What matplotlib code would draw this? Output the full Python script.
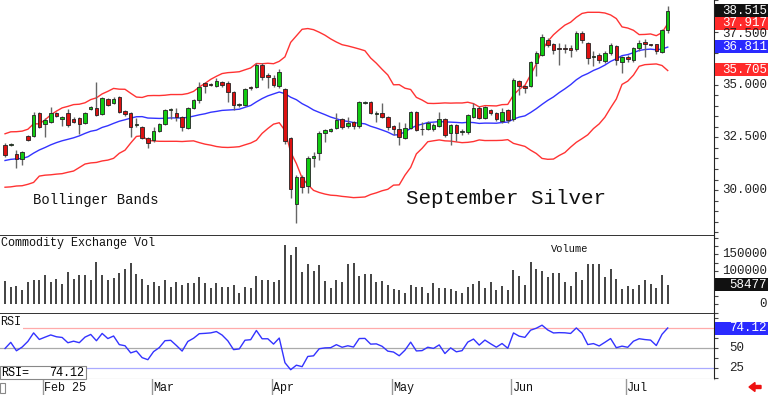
import numpy as np
import pandas as pd
import matplotlib
matplotlib.use('Agg')
import matplotlib.pyplot as plt
from matplotlib.patches import Rectangle, FancyArrow
import matplotlib.transforms as mtransforms

MONO = 'Liberation Mono'

# trading days shown, Jan 23 - Jul 11 2025
holidays = ['2025-02-17', '2025-04-18', '2025-05-26', '2025-06-19', '2025-07-04']
dates = pd.bdate_range('2025-01-23', '2025-07-11')
dates = dates[~dates.isin(pd.to_datetime(holidays))]

# closes before the window, only used to warm up the bands / rsi
prior_close = [31.1, 31.0, 31.4, 30.8, 30.1, 30.0, 31.0, 31.1, 31.4, 31.7,
               31.7, 31.8, 31.3, 31.3, 31.9, 32.5, 31.8, 32.4, 32.1]

opens = [32.14, 32.16, 31.71, 31.47, 32.56, 32.56, 33.65, 33.13, 33.23, 33.65,
         33.37, 33.65, 33.37, 33.42, 33.18, 33.84, 33.89, 33.61, 34.32, 34.13,
         34.42, 33.75, 33.65, 33.08, 32.99, 32.47, 32.37, 32.80, 33.13, 33.80,
         33.65, 33.46, 32.94, 33.89, 34.27, 35.08, 35.05, 34.94, 35.13, 35.08,
         34.65, 34.03, 34.03, 34.89, 34.89, 35.93, 35.46, 35.32, 34.94, 34.79,
         32.47, 29.33, 30.62, 30.19, 31.52, 31.76, 32.71, 32.80, 32.94, 33.37,
         33.04, 33.23, 33.04, 34.15, 34.18, 33.62, 33.65, 33.46, 33.04, 32.90,
         32.47, 32.94, 33.70, 32.92, 32.90, 32.90, 33.04, 33.37, 32.71, 33.08,
         32.75, 32.75, 33.46, 33.89, 33.42, 33.80, 33.65, 33.27, 33.80, 33.37,
         35.17, 34.94, 34.94, 36.03, 36.41, 37.12, 36.93, 36.70, 36.72, 36.74,
         36.69, 37.45, 36.98, 36.31, 36.41, 36.12, 36.50, 36.83, 36.07, 36.31,
         36.17, 36.74, 37.02, 36.93, 36.93, 36.55, 37.62]
highs = [32.23, 32.25, 31.90, 31.85, 32.60, 33.70, 33.70, 33.40, 33.94, 33.70,
         33.50, 33.84, 33.46, 33.46, 33.70, 34.00, 35.13, 34.42, 34.37, 34.42,
         34.47, 33.80, 33.70, 33.40, 33.04, 32.52, 32.99, 33.18, 33.84, 33.89,
         33.90, 33.50, 33.94, 34.32, 35.13, 35.13, 35.10, 35.30, 35.17, 35.17,
         34.70, 34.15, 34.84, 34.94, 36.03, 36.03, 35.55, 35.46, 35.75, 34.84,
         32.50, 30.70, 30.70, 31.60, 31.80, 32.80, 32.90, 32.95, 33.65, 33.42,
         33.45, 33.30, 34.22, 34.25, 34.22, 33.75, 34.13, 33.50, 33.10, 33.23,
         33.20, 33.75, 33.75, 33.23, 33.30, 33.20, 33.70, 33.42, 33.15, 33.15,
         32.90, 33.60, 34.13, 34.00, 34.00, 33.85, 33.70, 33.90, 33.85, 35.30,
         35.22, 35.00, 36.12, 36.60, 37.40, 37.20, 37.00, 36.98, 36.95, 36.88,
         37.55, 37.55, 37.05, 36.60, 36.50, 36.60, 37.00, 36.90, 36.35, 36.40,
         36.80, 37.10, 37.15, 36.95, 36.95, 37.65, 38.72]
lows = [31.57, 32.10, 31.04, 31.19, 32.33, 32.50, 32.95, 32.52, 33.18, 33.46,
        33.04, 33.00, 33.18, 32.66, 33.13, 33.80, 33.50, 33.56, 33.99, 34.08,
        33.65, 33.50, 32.52, 32.99, 32.42, 31.99, 32.30, 32.75, 33.08, 33.37,
        33.27, 32.80, 32.90, 33.84, 34.13, 34.60, 34.95, 34.90, 34.90, 34.18,
        33.80, 33.95, 33.99, 34.75, 34.84, 35.20, 34.84, 34.89, 34.85, 32.20,
        29.62, 28.43, 29.85, 29.85, 31.09, 31.42, 32.28, 32.75, 32.90, 32.90,
        32.95, 32.90, 32.95, 34.10, 33.60, 33.23, 33.42, 32.85, 32.60, 32.14,
        32.40, 32.90, 32.80, 32.61, 32.85, 32.80, 32.99, 32.50, 32.14, 32.33,
        32.60, 32.66, 33.40, 33.37, 33.37, 33.55, 33.30, 33.20, 33.18, 33.30,
        34.50, 34.60, 34.90, 35.40, 36.35, 36.80, 36.45, 35.93, 36.50, 36.30,
        36.60, 36.98, 36.00, 35.90, 36.05, 36.05, 36.40, 35.93, 35.55, 36.10,
        36.10, 36.60, 36.30, 36.85, 36.45, 36.50, 37.45]
closes = [31.66, 32.20, 31.47, 31.80, 32.37, 33.56, 32.99, 33.32, 33.65, 33.51,
          33.46, 33.08, 33.23, 33.13, 33.65, 33.94, 33.56, 34.37, 34.03, 34.32,
          33.70, 33.61, 32.99, 33.13, 32.47, 32.23, 32.80, 33.13, 33.80, 33.84,
          33.46, 32.99, 33.89, 34.27, 34.89, 34.94, 35.00, 35.17, 34.98, 34.65,
          34.03, 34.08, 34.79, 34.84, 35.93, 35.36, 35.36, 34.98, 35.60, 32.33,
          30.05, 30.62, 30.14, 31.52, 31.61, 32.71, 32.85, 32.88, 33.32, 32.99,
          33.18, 33.04, 34.18, 34.20, 33.65, 33.68, 33.46, 32.99, 32.90, 32.52,
          32.94, 33.70, 32.85, 32.88, 33.18, 33.08, 33.37, 32.61, 33.08, 32.71,
          32.80, 33.56, 33.89, 33.42, 33.94, 33.65, 33.37, 33.70, 33.32, 35.22,
          34.94, 34.84, 36.07, 36.50, 37.26, 36.88, 36.64, 36.69, 36.68, 36.64,
          37.45, 37.12, 36.26, 36.36, 36.17, 36.50, 36.88, 36.17, 36.31, 36.22,
          36.74, 36.98, 36.93, 36.90, 36.60, 37.59, 38.515]
volume_k = [70, 51, 56, 43, 66, 73, 73, 88, 68, 76,
            60, 96, 76, 88, 88, 73, 126, 88, 73, 80,
            95, 105, 123, 91, 75, 58, 66, 55, 72, 53,
            66, 58, 63, 63, 81, 63, 48, 65, 53, 53,
            58, 35, 51, 48, 86, 73, 73, 68, 73, 178,
            148, 171, 96, 120, 101, 118, 71, 48, 73, 66,
            121, 123, 85, 91, 91, 66, 71, 58, 45, 43,
            35, 58, 51, 51, 35, 65, 50, 48, 45, 41,
            35, 53, 60, 70, 50, 66, 43, 55, 43, 103,
            85, 58, 128, 105, 100, 81, 95, 95, 68, 56,
            98, 73, 120, 120, 120, 83, 105, 76, 45, 55,
            45, 58, 73, 60, 50, 88, 58.477]

# values printed in the right-hand tags
last_close, upper_last, mid_last, lower_last = 38.515, 37.917, 36.811, 35.705
last_vol = 58477
last_rsi = 74.12

price_ticks = [30.0, 32.5, 35.0, 37.5]
vol_ticks = [0, 100000, 150000]
rsi_ticks = [25, 50]
month_labels = ['Feb 25', 'Mar', 'Apr', 'May', 'Jun', 'Jul']

opens = np.array(opens); highs = np.array(highs)
lows = np.array(lows); closes = np.array(closes)
volume = np.array(volume_k) * 1000
n = len(closes)
x = np.arange(n)

# indicators: 20 day bollinger (2 sd), 9 day wilder rsi
allc = pd.Series(prior_close + list(closes))
k = len(prior_close)
mid = allc.rolling(20).mean().values[k:]
sd = allc.rolling(20).std(ddof=0).values[k:]
delta = allc.diff()
gain = delta.clip(lower=0).ewm(alpha=1/9, adjust=False).mean()
loss = (-delta.clip(upper=0)).ewm(alpha=1/9, adjust=False).mean()
rsi = (100 - 100 / (1 + gain / loss)).values[k:]

W, H = 768, 395
fig = plt.figure(figsize=(W / 100, H / 100), dpi=100)


def box(l, t, r, b):
    return [l / W, 1 - b / H, (r - l) / W, (b - t) / H]


ax_p = fig.add_axes(box(0, 0, 714, 236))
ax_v = fig.add_axes(box(0, 236, 714, 314), sharex=ax_p)
ax_r = fig.add_axes(box(0, 314, 714, 379), sharex=ax_p)
ax_d = fig.add_axes(box(0, 379, 714, 395), sharex=ax_p)

for ax in (ax_p, ax_v, ax_r, ax_d):
    ax.set_xticks([])
    ax.spines['top'].set_visible(False)
    ax.spines['left'].set_visible(False)
    ax.yaxis.tick_right()
    ax.tick_params(axis='y', direction='out', length=3, width=0.8,
                   labelright=False, which='both', color='#444444')
ax_p.set_xlim(-0.88, 124.1)

# price panel
up = closes >= opens
ax_p.vlines(x, lows, highs, color='#666666', lw=1, zorder=2)
ax_p.bar(x, np.maximum(np.abs(closes - opens), 0.035), bottom=np.minimum(opens, closes),
         width=0.62, color=np.where(up, '#11cc11', '#dd1111'),
         edgecolor='#222222', linewidth=0.6, zorder=3)
ax_p.plot(x, mid, color='#3333ff', lw=1, zorder=1)
ax_p.plot(x, mid + 2 * sd, color='#ff3333', lw=1, zorder=1)
ax_p.plot(x, mid - 2 * sd, color='#ff3333', lw=1, zorder=1)
ax_p.set_ylim(27.82, 39.02)
ax_p.set_yticks(price_ticks)
ax_p.set_yticks(np.arange(28, 39.01, 0.5), minor=True)
ax_p.text(33 / 714, 29.55, 'Bollinger Bands', transform=mtransforms.blended_transform_factory(ax_p.transAxes, ax_p.transData),
          fontsize=10, family=MONO, va='center', color='#111111')
ax_p.text(406 / 714, 29.6, 'September Silver', transform=mtransforms.blended_transform_factory(ax_p.transAxes, ax_p.transData),
          fontsize=15, family=MONO, va='center', color='#111111')

# volume panel
ax_v.vlines(x, 0, volume, color='#222222', lw=1.2)
ax_v.set_ylim(-29000, 204500)
ax_v.set_yticks(vol_ticks)
ax_v.set_yticks(np.arange(-25000, 200001, 25000), minor=True)
ax_v.text(0.002, 0.985, 'Commodity Exchange Vol', transform=ax_v.transAxes,
          fontsize=8.5, family=MONO, va='top', color='#111111')
ax_v.text(551 / 714, 0.83, 'Volume', transform=ax_v.transAxes,
          fontsize=7.5, family=MONO, va='center', color='#111111')

# rsi panel
ax_r.axhline(75, color='#ffaaaa', lw=0.9)
ax_r.axhline(50, color='#aaaaaa', lw=0.9)
ax_r.axhline(25, color='#aaaaff', lw=0.9)
ax_r.plot(x, rsi, color='#3333ff', lw=1)
ax_r.set_ylim(10.9, 92.1)
ax_r.set_yticks(rsi_ticks)
ax_r.set_yticks(np.arange(12.5, 92, 12.5), minor=True)
ax_r.spines['bottom'].set_color('#999999')
ax_r.text(0.0, 0.88, 'RSI', transform=ax_r.transAxes, fontsize=8.5, family=MONO,
          va='center', color='#111111', bbox=dict(fc='white', ec='none', pad=1.5))

for ax in (ax_p, ax_v):
    ax.spines['bottom'].set_linewidth(1.3)
    ax.spines['bottom'].set_color('#222222')
for ax in (ax_p, ax_v, ax_r):
    ax.spines['right'].set_color('#222222')

# date strip
ax_d.set_ylim(0, 1)
ax_d.set_yticks([])
for s in ('bottom', 'right'):
    ax_d.spines[s].set_visible(False)
month_start = [i for i in range(1, n) if dates[i].month != dates[i - 1].month]
for i, lab in zip(month_start, month_labels):
    ax_d.axvline(i - 0.35, color='#999999', lw=1)
    ax_d.text(i - 0.1, 0.42, lab, fontsize=8.5, family=MONO, va='center', color='#111111')


def rtext(ax, val, s, fc=None, tc='#222222', xr=767, ha='right'):
    ypix = ax.transData.transform((0, val))[1]
    yf = ypix / H
    if fc is not None:
        fig.patches.append(Rectangle((715 / W, yf - 6.5 / H), 53 / W, 13 / H,
                                     transform=fig.transFigure, fc=fc, ec='none', zorder=5))
    fig.text(xr / W, yf, s, ha=ha, va='center', fontsize=9, family=MONO, color=tc, zorder=6)


# 37.500 sits partly under the upper-band tag, as in the source chart
for t in price_ticks:
    rtext(ax_p, t - (0.08 if t == 37.5 else 0), f'{t:.3f}')
rtext(ax_p, last_close, f'{last_close:.3f}', fc='#111111', tc='white')
rtext(ax_p, upper_last, f'{upper_last:.3f}', fc='#ff2a2a', tc='white')
rtext(ax_p, mid_last, f'{mid_last:.3f}', fc='#2a2aff', tc='white')
rtext(ax_p, lower_last, f'{lower_last:.3f}', fc='#ff2a2a', tc='white')
for t in vol_ticks:
    rtext(ax_v, t, f'{t}')
rtext(ax_v, last_vol, f'{last_vol}', fc='#111111', tc='white')
for t in rsi_ticks:
    rtext(ax_r, t, f'{t}', xr=729, ha='left')
rtext(ax_r, last_rsi, f'{last_rsi:.2f}', fc='#2a2aff', tc='white')

# readout box and small widgets
fig.patches.append(Rectangle((0, 1 - 379 / H), 86 / W, 13 / H, transform=fig.transFigure,
                             fc='white', ec='#888888', lw=0.8, zorder=5))
fig.text(1 / W, 1 - 372.5 / H, 'RSI=', fontsize=8.5, family=MONO, va='center', zorder=6)
fig.text(84 / W, 1 - 372.5 / H, f'{last_rsi:.2f}', fontsize=8.5, family=MONO, va='center',
         ha='right', zorder=6)
fig.patches.append(Rectangle((0, 1 - 393 / H), 5 / W, 10 / H, transform=fig.transFigure,
                             fc='white', ec='#888888', lw=0.8))
fig.patches.append(FancyArrow(7.61, 0.08, -0.12, 0, width=0.03, head_width=0.09,
                              head_length=0.06, length_includes_head=True,
                              transform=fig.dpi_scale_trans, color='#ee1111'))

fig.savefig('out.png', dpi=100)
